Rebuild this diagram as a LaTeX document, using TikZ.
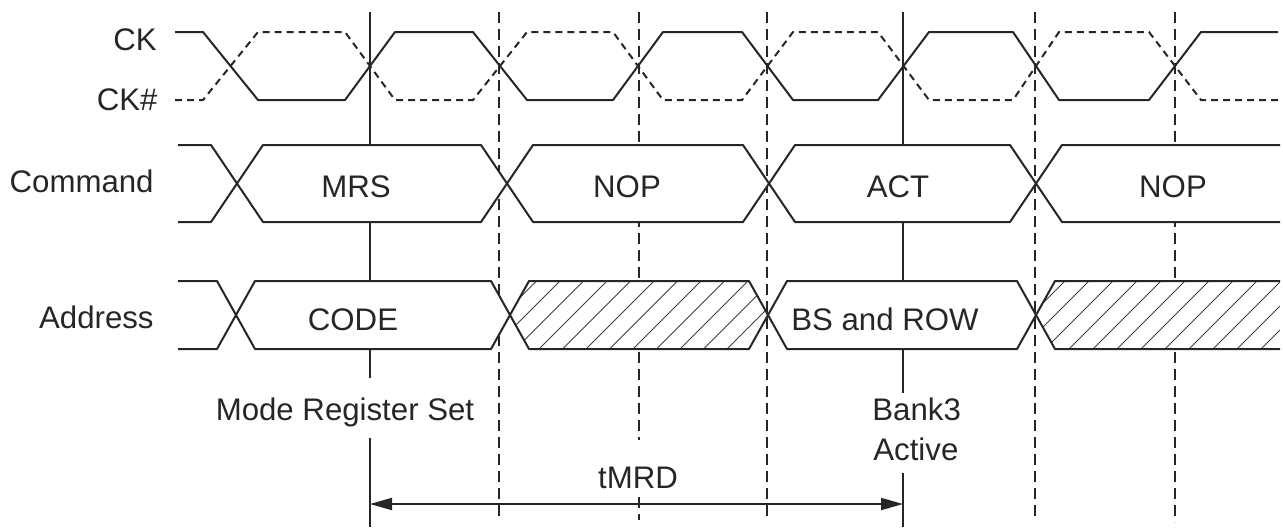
\documentclass[tikz,border=0pt]{standalone}
\usepackage{fontspec}
\setmainfont{Liberation Sans}
\usetikzlibrary{arrows.meta}
\begin{document}
\begin{tikzpicture}[x=0.5pt,y=-0.5pt,
  wave/.style={line width=1pt, draw=black!85, line join=round},
  ckn/.style={wave, dash pattern=on 3.5pt off 2.5pt},
  vsolid/.style={line width=1pt, draw=black!85},
  vdash/.style={line width=1pt, draw=black!85, dash pattern=on 5.5pt off 3pt},
  lbl/.style={font=\fontsize{15.6}{18}\selectfont, text=black!85, inner sep=0pt},
  hatch/.style={line width=0.5pt, draw=black!75},
  dimarrow/.style={vsolid, {Triangle[length=11pt,width=6pt]}-{Triangle[length=11pt,width=6pt]}},
]
\useasboundingbox (0,0) rectangle (1283,527);

% vertical reference lines
\draw[vsolid] (370,12) -- (370,378);
\draw[vsolid] (370,438) -- (370,527);
\draw[vsolid] (903,12) -- (903,393);
\draw[vsolid] (903,473) -- (903,527);
\draw[vdash] (499,12) -- (499,520);
\draw[vdash] (639,12) -- (639,440);
\draw[vdash] (639,497) -- (639,520);
\draw[vdash] (767,12) -- (767,520);
\draw[vdash] (1035,12) -- (1035,517);
\draw[vdash] (1175,12) -- (1175,522);

% clocks
\draw[wave] (175,32) -- (203,32) -- (258,100) -- (345,100) -- (395,32) -- (473,32) -- (527,100) -- (613,100) -- (663,32) -- (742,32) -- (793,100) -- (878,100) -- (929,32) -- (1013,32) -- (1059,100) -- (1149,100) -- (1201,32) -- (1278,32);
\draw[ckn] (175,100) -- (203,100) -- (258,32) -- (345,32) -- (395,100) -- (473,100) -- (527,32) -- (613,32) -- (663,100) -- (742,100) -- (793,32) -- (878,32) -- (929,100) -- (1013,100) -- (1059,32) -- (1149,32) -- (1201,100) -- (1278,100);

% command bus
\draw[wave] (178,145) -- (211,145) -- (237,183.5) -- (211,222) -- (178,222);
\filldraw[wave, fill=white] (237,183.5) -- (263,145) -- (481,145) -- (507,183.5) -- (481,222) -- (263,222) -- cycle;
\filldraw[wave, fill=white] (507,183.5) -- (533,145) -- (743,145) -- (769,183.5) -- (743,222) -- (533,222) -- cycle;
\filldraw[wave, fill=white] (769,183.5) -- (795,145) -- (1010,145) -- (1036,183.5) -- (1010,222) -- (795,222) -- cycle;
\fill[white] (1036,183.5) -- (1062,145) -- (1283,145) -- (1283,222) -- (1062,222) -- cycle;
\draw[wave] (1280,145) -- (1062,145) -- (1036,183.5) -- (1062,222) -- (1280,222);

% address bus
\draw[wave] (178,281) -- (217,281) -- (236,315) -- (217,349) -- (178,349);
\filldraw[wave, fill=white] (236,315) -- (255,281) -- (491,281) -- (510,315) -- (491,349) -- (255,349) -- cycle;
\fill[white] (510,315) -- (529,281) -- (749,281) -- (768,315) -- (749,349) -- (529,349) -- cycle;
\begin{scope}
  \clip (510,315) -- (529,281) -- (749,281) -- (768,315) -- (749,349) -- (529,349) -- cycle;
  \foreach \x in {445,468.5,...,800} \draw[hatch] (\x,349) -- ++(68,-68);
\end{scope}
\draw[wave] (510,315) -- (529,281) -- (749,281) -- (768,315) -- (749,349) -- (529,349) -- cycle;
\filldraw[wave, fill=white] (768,315) -- (787,281) -- (1017,281) -- (1036,315) -- (1017,349) -- (787,349) -- cycle;
\fill[white] (1036,315) -- (1055,281) -- (1283,281) -- (1283,349) -- (1055,349) -- cycle;
\begin{scope}
  \clip (1036,315) -- (1055,281) -- (1280,281) -- (1280,349) -- (1055,349) -- cycle;
  \foreach \x in {949,973,...,1300} \draw[hatch] (\x,349) -- ++(68,-68);
\end{scope}
\draw[wave] (1280,281) -- (1055,281) -- (1036,315) -- (1055,349) -- (1280,349);

% labels
\node[lbl, anchor=base east] (ck) at (157,50) {CK};
\node[lbl, anchor=base east] (ckn) at (158,110) {CK\#};
\node[lbl, anchor=base east] (cmd) at (154,192) {Command};
\node[lbl, anchor=base east] (adr) at (154,328) {Address};
\node[lbl, anchor=base] (mrs) at (356,197) {MRS};
\node[lbl, anchor=base] (nop1) at (627,197) {NOP};
\node[lbl, anchor=base] (act) at (898,197) {ACT};
\node[lbl, anchor=base] (nop2) at (1173,197) {NOP};
\node[lbl, anchor=base] (code) at (353,330) {CODE};
\node[lbl, anchor=base] (bsrow) at (885,330) {BS and ROW};
\node[lbl, anchor=base] (mrset) at (345,420) {Mode Register Set};
\node[lbl, anchor=base west] (bank) at (872,420) {Bank3};
\node[lbl, anchor=base west] (active) at (873,460) {Active};
\node[lbl, anchor=base] (tmrd) at (638,488) {tMRD};

% tMRD arrow
\coordinate (tA) at (370,504);
\coordinate (tB) at (903,504);
\draw[dimarrow] (tA) -- (tB);
\end{tikzpicture}
\end{document}
